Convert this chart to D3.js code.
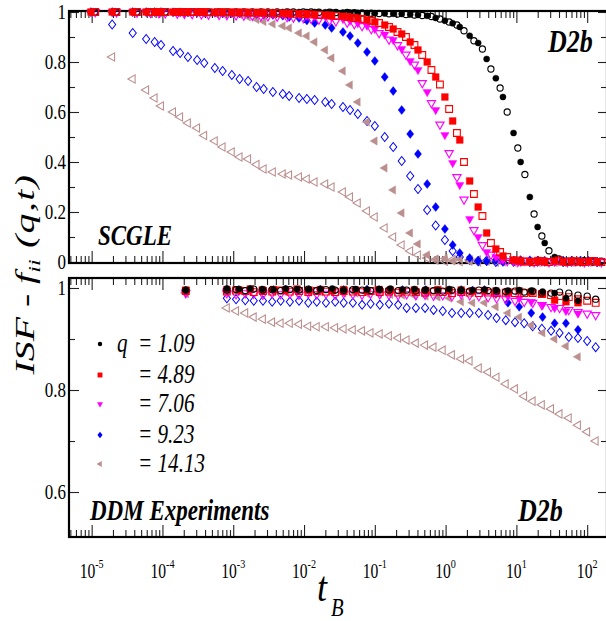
<!DOCTYPE html>
<html>
<head>
<meta charset="utf-8">
<script src="https://cdn.jsdelivr.net/npm/d3@7"></script>
<style>
body{margin:0;background:#fff}
svg{display:block}
</style>
</head>
<body>
<svg width="606" height="621"></svg>
<script>
// ---- data (times as log10 t_B) ----
// SCGLE time grid (filled symbols + blue/brown open)
var topLogT = [-5.01,-4.71,-4.42,-4.23,-4.11,-4.02,-3.85,-3.75,-3.64,-3.51,-3.41,-3.26,-3.15,-3.02,-2.91,-2.79,-2.67,-2.57,-2.44,-2.30,-2.21,-2.07,-1.96,-1.85,-1.70,-1.61,-1.45,-1.35,-1.24,-1.11,-1.00,-0.86,-0.74,-0.62,-0.50,-0.39,-0.26,-0.14,-0.01,0.10,0.20,0.34,0.46,0.58,0.71,0.81,0.96,1.06,1.19,1.30,1.40,1.54,1.66,1.78,1.90,2.02,2.14];
// SCGLE grid used by black/red/magenta open symbols
var topLogT2 = [-4.95,-4.65,-4.36,-4.17,-4.05,-3.96,-3.79,-3.69,-3.58,-3.45,-3.35,-3.20,-3.09,-2.96,-2.85,-2.73,-2.61,-2.51,-2.38,-2.24,-2.15,-2.01,-1.90,-1.79,-1.64,-1.55,-1.39,-1.29,-1.18,-1.05,-0.94,-0.80,-0.68,-0.56,-0.44,-0.33,-0.20,-0.08,0.05,0.16,0.26,0.40,0.52,0.64,0.77,0.87,1.02,1.12,1.25,1.36,1.46,1.60,1.72,1.84,1.96,2.08,2.20];

var topBlackFilled = [1,1,1,1,1,1,1,1,1,1,1,1,1,1,1,1,1,1,1,1, 1,1,1,1,0.999,0.999,0.998,0.998, 0.997,0.996,0.995,0.994,0.993,0.992,0.99,0.988, 0.985,0.976,0.965,0.955,0.94,0.905,0.876,0.812,0.735,0.66,0.516,0.40,0.26,0.14,0.076,0.02,0.006,0.002,0,0.004,0];
var topBlackOpen = [1,1,1,1,1,1,1,1,1,1,1,1,1,1,1,1,1,1,1,1, 1,1,1,0.999,0.999,0.998,0.998,0.997, 0.996,0.995,0.994,0.993,0.992,0.99,0.988,0.986, 0.982,0.972,0.96,0.948,0.925,0.885,0.852,0.772,0.696,0.6,0.456,0.35,0.192,0.104,0.045,0.012,0.003,0.001,0.005,0,0.003];
var topRedFilled = [1,1,1,1,1,1,1,1,1,1,1,0.999,0.999,0.999,0.998,0.998,0.997,0.997,0.996,0.995, 0.994,0.993,0.992,0.99,0.988,0.986,0.983,0.979, 0.975,0.968,0.96,0.948,0.932,0.912,0.88,0.848, 0.80,0.74,0.66,0.564,0.488,0.324,0.22,0.116,0.052,0.024,0.008,0.003,0.001,0.006,0,0.004,0,0.005,0,0.003,0];
var topRedOpen = [1,1,1,1,1,1,1,1,1,1,0.999,0.999,0.999,0.998,0.998,0.997,0.997,0.996,0.995,0.994, 0.993,0.992,0.99,0.988,0.986,0.984,0.98,0.976, 0.972,0.965,0.956,0.94,0.92,0.90,0.868,0.828, 0.768,0.71,0.612,0.516,0.40,0.272,0.184,0.076,0.04,0.02,0.006,0.002,0,0.004,0,0.006,0,0.003,0,0.004,0];
var topMagFilled = [1,1,1,1,1,1,1,1,1,0.999,0.999,0.998,0.998,0.997,0.996,0.995,0.994,0.993,0.992,0.991, 0.99,0.988,0.986,0.984,0.982,0.978,0.972,0.965, 0.955,0.945,0.932,0.91,0.888,0.852,0.804,0.768, 0.68,0.608,0.508,0.396,0.308,0.172,0.10,0.04,0.02,0.008,0.002,0,0.005,0,0.004,0,0.006,0,0.003,0,0];
var topMagOpen = [1,0.999,0.998,0.997,0.996,0.995,0.994,0.993,0.992,0.991,0.99,0.989,0.988,0.987,0.986,0.985,0.984,0.983,0.982,0.98, 0.978,0.976,0.973,0.97,0.967,0.963,0.958,0.952, 0.944,0.932,0.916,0.89,0.868,0.83,0.79,0.716, 0.636,0.55,0.436,0.34,0.25,0.128,0.068,0.03,0.012,0.004,0.001,0.005,0,0.004,0,0.006,0,0.003,0,0.005,0];
var topBlueFilled = [1,1,1,1,1,1,0.999,0.999,0.998,0.998,0.997,0.997,0.996,0.995,0.994,0.993,0.992,0.99,0.988,0.985, 0.98,0.976,0.966,0.956,0.948,0.936,0.92,0.904, 0.876,0.84,0.804,0.74,0.684,0.608,0.512,0.432, 0.312,0.22,0.132,0.068,0.036,0.016,0.006,0.002,0.008,0,0.006,0.002,0.007,0,0.005,0.001,0.006,0,0.004,0.002,0];
var topBrownFilled = [1,1,1,1,1,0.999,0.999,0.999,0.998,0.998,0.997,0.996,0.995, 0.993,0.99,0.98,0.97,0.962,0.952,0.944, 0.936,0.916,0.904,0.88,0.848,0.816,0.764,0.708, 0.64,0.56,0.484,0.376,0.288,0.196,0.116,0.072, 0.028,0.012,0.014,0.004,0.012,0.002,0.01,0.003,0.008,0,0.006,0,0.004,0,0.003,0,0,0,0,0,0];
var topBlueOpen = [null, 0.95,0.916,0.892,0.88,0.868,0.844,0.836,0.82,0.808,0.796,0.776,0.764,0.748,0.732,0.724,0.70,0.692,0.68,0.672, 0.664,0.656,0.652,0.648,0.64,0.632,0.62,0.608, 0.592,0.564,0.544,0.50,0.46,0.404,0.344,0.292, 0.208,0.146,0.088,0.044,0.02,0.008,0.003,0.006,0,0.005,0.001,0.006,0,0.004,0.002,0.005,0,0.004,0.001,0.003,0];
var topBrownOpen = [null, 0.82,0.732,0.688,0.656,0.624,0.60,0.58,0.556,0.536,0.506,0.484,0.46,0.44,0.42,0.412,0.39,0.372,0.36,0.352, 0.348,0.34,0.332,0.32,0.312,0.30,0.28,0.26, 0.236,0.204,0.18,0.136,0.10,0.068,0.044,0.028, 0.016,0.008,0.003,0.01,0.002,0.008,0,0.006,0,0.004,0,0.003,0,0,0,0,0,0,0,0,0];

// DDM lag times: open-symbol runs and filled-symbol runs
var ddmLogTOpen = [-3.67,-3.09,-2.96,-2.83,-2.71,-2.58,-2.45,-2.33,-2.20,-2.07,-1.94,-1.82,-1.69,-1.56,-1.44,-1.31,-1.18,-1.06,-0.93,-0.80,-0.67,-0.55,-0.42,-0.29,-0.17,-0.04,0.09,0.22,0.34,0.47,0.60,0.72,0.85,0.98,1.11,1.23,1.36,1.49,1.61,1.74,1.87,2.00,2.12];
var ddmLogTFilled = [-3.67,-3.09,-2.92,-2.76,-2.59,-2.43,-2.26,-2.10,-1.93,-1.77,-1.60,-1.44,-1.27,-1.11,-0.94,-0.78,-0.61,-0.44,-0.28,-0.11,0.05,0.22,0.38,0.55,0.71,0.88,1.04,1.21,1.37,1.54,1.70,1.87];

var ddmBlackOpen = [0.996, 0.996,0.997,0.995,0.998,0.996,0.997,0.995,0.997,0.996,0.998, 0.995,0.997,0.996,0.995,0.997,0.996,0.995,0.997,0.996,0.995, 0.996,0.994,0.996,0.995,0.994,0.996,0.995,0.994,0.996,0.995, 0.994,0.993,0.994,0.992,0.994,0.99,0.99,0.992,0.99,0.986, 0.984,0.978];
var ddmRedOpen = [0.994, 0.993,0.995,0.994,0.992,0.994,0.993,0.995,0.993,0.994,0.992, 0.994,0.993,0.992,0.994,0.993,0.992,0.994,0.992,0.993,0.991, 0.993,0.992,0.991,0.993,0.992,0.99,0.992,0.991,0.99,0.991, 0.99,0.991,0.99,0.99,0.99,0.988,0.986,0.984,0.982,0.978,0.975,0.971];
var ddmMagOpen = [0.99, 0.99,0.988,0.99,0.989,0.987,0.99,0.988,0.989,0.987,0.99, 0.988,0.989,0.987,0.99,0.988,0.987,0.989,0.988,0.987,0.986, 0.988,0.986,0.987,0.985,0.986,0.984,0.988,0.986,0.984,0.982, 0.98,0.978,0.975,0.973,0.971,0.967,0.963,0.961,0.957,0.953,0.95,0.947];
var ddmBlueOpen = [0.992, 0.98,0.978,0.976,0.975,0.975,0.973,0.975,0.973,0.975,0.971, 0.973,0.971,0.973,0.971,0.971,0.967,0.969,0.967,0.969,0.967, 0.961,0.961,0.961,0.957,0.955,0.951,0.951,0.951,0.951,0.947, 0.941,0.937,0.933,0.931,0.925,0.92,0.916,0.912,0.904,0.902,0.896,0.884];
var ddmBrownOpen = [0.99, 0.961,0.955,0.951,0.943,0.939,0.933,0.931,0.931,0.929,0.925, 0.924,0.924,0.922,0.92,0.918,0.916,0.912,0.91,0.906,0.902, 0.898,0.892,0.888,0.884,0.878,0.869,0.861,0.857,0.843,0.835, 0.825,0.812,0.802,0.788,0.778,0.771,0.763,0.753,0.745,0.731,0.718,0.70];

var ddmBlackFilled = [0.996, 0.999,0.998,0.999,0.998,0.997,0.999,0.998,0.997,0.998,0.999, 0.997,0.998,0.997,0.998,0.999,0.997,0.998,0.997,0.996,0.998, 0.997,0.996,0.997,0.996,0.995,0.996,0.995, 0.993,0.99,0.98,0.975];
var ddmRedFilled = [0.996, 0.997,0.996,0.998,0.996,0.997,0.996,0.998,0.996,0.997,0.995, 0.997,0.996,0.995,0.997,0.996,0.995,0.996,0.995,0.997,0.995, 0.996,0.994,0.995,0.994,0.993,0.994, 0.992,0.988,0.976,0.973,0.971];
var ddmMagFilled = [0.993, 0.995,0.994,0.995,0.993,0.994,0.995,0.993,0.994,0.995,0.993, 0.994,0.993,0.995,0.994,0.993,0.994,0.993,0.992,0.994,0.993, 0.992,0.993,0.992, 0.99,0.984,0.98,0.973,0.967,0.961,0.955,0.95];
var ddmBlueFilled = [0.995, 0.997,0.996,0.997,0.995,0.996,0.997,0.995,0.996,0.997,0.995, 0.996,0.995,0.997,0.996,0.995,0.996,0.995,0.996,0.994,0.995, 0.996,0.995, 0.996,0.988,0.971,0.963,0.951,0.943,0.931,0.931,0.918];
var ddmBrownFilled = [0.99, 0.996,0.995,0.995,0.994,0.994,0.993,0.993,0.992,0.992,0.991, 0.99,0.99,0.989,0.988,0.987,0.986,0.985,0.984,0.982, 0.98,0.973,0.971,0.971,0.963,0.951,0.943,0.927,0.912,0.90,0.886,0.865];

var qValues = ["1.09", "4.89", "7.06", "9.23", "14.13"];
var colors = ["#000000", "#ff0000", "#ff00ff", "#0000ff", "#bc8f8f"];
var shapes = ["circle", "square", "tridown", "diamond", "trileft"];
var decades = [-5, -4, -3, -2, -1, 0, 1, 2];

var serif = "'Liberation Serif', 'Times New Roman', Times, 'DejaVu Serif', serif";

// ---- layout ----
var svg = d3.select("svg").attr("font-family", serif);
var L = 69, R = 607;
var x = d3.scaleLog()
    .domain([Math.pow(10, -5.32), Math.pow(10, 2.28)])
    .range([L, R]);
var yTop = d3.scaleLinear().domain([0, 1]).range([262, 12]);
var yBot = d3.scaleLinear().domain([0.5118, 1.0196]).range([537, 278]);

var majorX = decades.map(function(e){ return Math.pow(10, e); });
var minorX = x.ticks().filter(function(t){
    var l = Math.log10(t);
    return Math.abs(l - Math.round(l)) > 1e-6;
});

function drawAxes(y, top, bottom, majorY, minorY) {
    var axes = [
        [d3.axisBottom(x).tickValues(majorX).tickSize(-12), bottom, "x"],
        [d3.axisBottom(x).tickValues(minorX).tickSize(-7), bottom, "x"],
        [d3.axisTop(x).tickValues(majorX).tickSize(-12), top, "x"],
        [d3.axisTop(x).tickValues(minorX).tickSize(-7), top, "x"],
        [d3.axisLeft(y).tickValues(majorY).tickSize(-10), L, "y"],
        [d3.axisLeft(y).tickValues(minorY).tickSize(-6), L, "y"],
        [d3.axisRight(y).tickValues(majorY).tickSize(-9), R, "y"],
        [d3.axisRight(y).tickValues(minorY).tickSize(-6), R, "y"]
    ];
    axes.forEach(function(a){
        var g = svg.append("g")
            .attr("transform", a[2] == "x" ? "translate(0," + a[1] + ")" : "translate(" + a[1] + ",0)")
            .call(a[0].tickFormat(""));
        g.select(".domain").remove();
        g.selectAll("line").attr("stroke", "#222").attr("stroke-width", 1.1);
    });
    svg.append("rect")
        .attr("x", L).attr("y", top)
        .attr("width", R - L).attr("height", bottom - top)
        .attr("fill", "none").attr("stroke", "#000").attr("stroke-width", 2.2);
}

drawAxes(yTop, 11, 263, [0, 0.2, 0.4, 0.6, 0.8, 1], [0.1, 0.3, 0.5, 0.7, 0.9]);
drawAxes(yBot, 278, 537, [0.6, 0.8, 1], [0.7, 0.9]);

// text placed at (px,py), stretched by sx/sy to mimic the narrow serif of the original
function txt(px, py, sx, sy) {
    return svg.append("text")
        .attr("transform", "translate(" + px + "," + py + ") scale(" + sx + "," + sy + ")")
        .attr("font-family", serif);
}

// y tick labels
[[yTop, [1, 0.8, 0.6, 0.4, 0.2, 0]], [yBot, [1, 0.8, 0.6]]].forEach(function(p){
    p[1].forEach(function(d){
        txt(66, p[0](d) + 7, 0.85, 1)
            .attr("text-anchor", "end")
            .style("font-size", "20px")
            .text(d3.format("")(d));
    });
});

// x tick labels 10^n
decades.forEach(function(d){
    var t = txt(x(Math.pow(10, d)), 578, 0.78, 1)
        .attr("text-anchor", "middle").style("font-size", "20px");
    t.append("tspan").text("10");
    t.append("tspan").attr("dy", -10).style("font-size", "13px").text(d);
});

// symbols
function symbolPath(shape, big) {
    var k = big ? 1 : 0.72;
    if (shape == "circle") return d3.symbol(d3.symbolCircle, 30 * k * k)();
    if (shape == "square") return d3.symbol(d3.symbolSquare, 46 * k * k)();
    if (shape == "diamond") return d3.symbol(d3.symbolSquare, 40 * k * k)();
    return d3.symbol(d3.symbolTriangle, 30 * k * k)();
}
function symbolTransform(shape) {
    if (shape == "tridown") return " rotate(180)";
    if (shape == "trileft") return " rotate(-90)";
    if (shape == "diamond") return " scale(0.8,1) rotate(45)";
    return "";
}

function drawSeries(logT, vals, y, idx, filled) {
    var pts = logT.map(function(lt, i){ return {t: Math.pow(10, lt), v: vals[i]}; })
        .filter(function(d){ return d.v != null; });
    svg.append("g").selectAll("path").data(pts).enter().append("path")
        .attr("d", symbolPath(shapes[idx], true))
        .attr("transform", function(d){
            return "translate(" + x(d.t) + "," + y(d.v) + ")" + symbolTransform(shapes[idx]);
        })
        .attr("fill", filled ? colors[idx] : "none")
        .attr("stroke", colors[idx])
        .attr("stroke-width", filled ? 0.4 : 1.1);
}

// SCGLE panel
drawSeries(topLogT, topBrownOpen, yTop, 4, false);
drawSeries(topLogT, topBlueOpen, yTop, 3, false);
drawSeries(topLogT, topBrownFilled, yTop, 4, true);
drawSeries(topLogT, topBlueFilled, yTop, 3, true);
drawSeries(topLogT2, topMagOpen, yTop, 2, false);
drawSeries(topLogT, topMagFilled, yTop, 2, true);
drawSeries(topLogT2, topBlackOpen, yTop, 0, false);
drawSeries(topLogT, topBlackFilled, yTop, 0, true);
drawSeries(topLogT2, topRedOpen, yTop, 1, false);
drawSeries(topLogT, topRedFilled, yTop, 1, true);

// DDM panel
drawSeries(ddmLogTOpen, ddmBrownOpen, yBot, 4, false);
drawSeries(ddmLogTOpen, ddmBlueOpen, yBot, 3, false);
drawSeries(ddmLogTFilled, ddmBrownFilled, yBot, 4, true);
drawSeries(ddmLogTFilled, ddmBlueFilled, yBot, 3, true);
drawSeries(ddmLogTOpen, ddmMagOpen, yBot, 2, false);
drawSeries(ddmLogTFilled, ddmMagFilled, yBot, 2, true);
drawSeries(ddmLogTOpen, ddmRedOpen, yBot, 1, false);
drawSeries(ddmLogTFilled, ddmRedFilled, yBot, 1, true);
drawSeries(ddmLogTOpen, ddmBlackOpen, yBot, 0, false);
drawSeries(ddmLogTFilled, ddmBlackFilled, yBot, 0, true);

// legend
var rowY = [352, 383, 412, 443, 472];
qValues.forEach(function(q, i){
    svg.append("path")
        .attr("d", symbolPath(shapes[i], false))
        .attr("transform", "translate(100," + (rowY[i] - 8) + ")" + symbolTransform(shapes[i]))
        .attr("fill", colors[i]);
    txt(138, rowY[i], 0.88, 1.12)
        .style("font-size", "24px").style("font-style", "italic")
        .text("= " + q);
});
txt(117, rowY[0], 0.88, 1.12)
    .style("font-size", "24px").style("font-style", "italic").text("q");

// panel labels
function label(s, px, py, size) {
    txt(px, py, 1, 1.25)
        .style("font-size", size + "px").style("font-weight", "bold").style("font-style", "italic")
        .text(s);
}
label("D2b", 548, 52, 26);
label("SCGLE", 98, 245, 23);
label("DDM Experiments", 90, 520, 23);
label("D2b", 518, 521, 26);

// axis titles
var yt = svg.append("text")
    .attr("transform", "translate(34,274) rotate(-90) scale(1.42,1)")
    .attr("text-anchor", "middle")
    .attr("font-family", serif)
    .style("font-size", "28px").style("font-style", "italic");
yt.append("tspan").text("ISF - f");
yt.append("tspan").attr("dy", 6).style("font-size", "17px").text("ii");
yt.append("tspan").attr("dy", -6).style("letter-spacing", "1px").text(" (q,t)");

txt(317, 601, 0.9, 1.05)
    .style("font-size", "40px").style("font-style", "italic").text("t");
txt(331, 616, 0.9, 1.05)
    .style("font-size", "23px").style("font-style", "italic").text("B");
</script>
</body>
</html>
